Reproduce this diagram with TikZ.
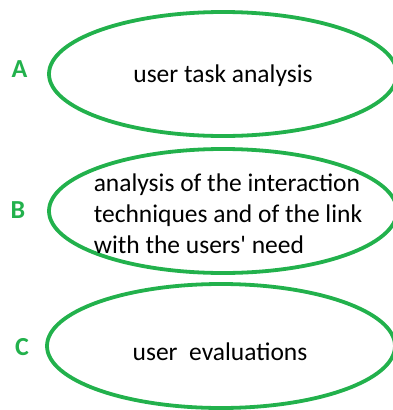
\documentclass[tikz,border=0pt]{standalone}
\usepackage{fontspec}
\setmainfont{Carlito}
\usetikzlibrary{shapes.geometric}
\definecolor{paintgreen}{HTML}{22B14C}
\tikzset{oval/.style={draw=paintgreen, line width=3.8pt, ellipse, inner sep=0pt, minimum width=348pt, minimum height=124pt},
  txt/.style={inner sep=0pt, font=\fontsize{25.5}{31}\selectfont, text=black},
  tag/.style={inner sep=0pt, font=\fontsize{26}{30}\selectfont\bfseries, text=paintgreen}}

\begin{document}
\begin{tikzpicture}[x=1pt, y=-1pt]
  \useasboundingbox (0,0) rectangle (393,410);
  % ovals
  \node[oval] (a) at (223,74)  {};
  \node[oval] (b) at (223,211) {};
  \node[oval] (c) at (221,346) {};
  % texts inside the ovals
  \node[txt, anchor=base] (ta) at (223,82) {user task analysis};
  \node[txt, align=left] (tb) at (228,214) {analysis of the interaction\\techniques and of the link\\with the users\textquotesingle\ need};
  \node[txt, anchor=base] (tc) at (220,360) {user\ \ evaluations};
  % letters
  \node[tag] (la) at (19.5,69) {A};
  \node[tag] (lb) at (18,210)  {B};
  \node[tag] (lc) at (22,347)  {C};
\end{tikzpicture}
\end{document}
